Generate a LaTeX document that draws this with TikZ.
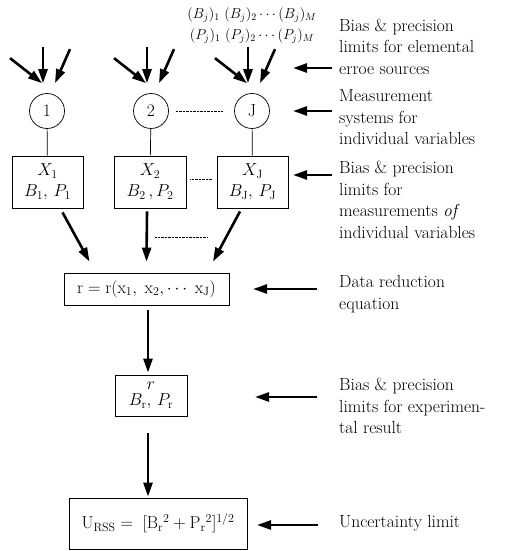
\documentclass[tikz,border=0pt]{standalone}
\usepackage{amsmath}
\usepackage{tikz}
\usetikzlibrary{arrows.meta}

\tikzset{
  meas/.style={draw, circle, minimum size=35pt, inner sep=0pt, line width=0.7pt},
  varbox/.style={draw, line width=0.8pt, align=center, inner sep=2pt},
  bigarrow/.style={-{Triangle[length=14pt,width=9pt]}, line width=2.6pt},
  note/.style={anchor=west, align=left, inner sep=0pt},
}

\begin{document}
\begin{tikzpicture}[x=1pt,y=-1pt,font=\fontsize{17.5}{21.5}\selectfont]
  \useasboundingbox (0,0) rectangle (506,551);

  % measurement systems
  \node[meas] (c1) at (47,111) {1};
  \node[meas] (c2) at (151,111) {2};
  \node[meas] (cJ) at (252,111) {J};
  \draw[densely dotted, shorten <=7pt, shorten >=11pt] (c2) -- (cJ);

  % elemental error sources
  \node[align=center, font=\fontsize{14}{21}\selectfont] (src) at (252,25.5)
    {$(B_j)_1\ (B_j)_2\cdots(B_j)_M$\\$(P_j)_1\ (P_j)_2\cdots(P_j)_M$};
  \foreach \c in {c1, c2, cJ} {
    \draw[bigarrow] ([xshift=-37pt,yshift=35pt]\c.north) -- ([xshift=-5pt,yshift=10pt]\c.north);
    \draw[bigarrow] ([xshift=-4pt,yshift=46pt]\c.north) -- ([xshift=-4pt,yshift=10pt]\c.north);
    \draw[bigarrow] ([xshift=23pt,yshift=44pt]\c.north) -- ([xshift=8pt,yshift=10pt]\c.north);
  }

  % individual variables
  \node[varbox, minimum width=71pt, minimum height=52pt] (b1) at (47.5,182) {$X_1$\\$B_1,\,P_1$};
  \node[varbox, minimum width=72pt, minimum height=52pt] (b2) at (150,182) {$X_2$\\$B_2\,,P_2$};
  \node[varbox, minimum width=71pt, minimum height=52pt] (b3) at (252.5,182) {$X_\mathrm{J}$\\$B_\mathrm{J},\,P_\mathrm{J}$};
  \foreach \c/\b in {c1/b1, c2/b2, cJ/b3}
    \draw[line width=0.7pt] (\c) -- (\b);
  \draw[densely dotted, shorten <=4pt, shorten >=4pt] ([yshift=3pt]b2.east) -- ([yshift=3pt]b3.west);

  % data reduction
  \node[varbox, minimum width=165pt, minimum height=32pt] (data) at (146.5,289)
    {$\mathrm{r}=\mathrm{r}(\mathrm{x}_1,\;\mathrm{x}_2,\cdots\;\mathrm{x}_\mathrm{J})$};
  \draw[bigarrow] ([xshift=15pt,yshift=-4pt]b1.south) -- ([xshift=-57pt,yshift=11pt]data.north);
  \draw[bigarrow] ([xshift=-3pt,yshift=-3pt]b2.south) -- ([xshift=0pt,yshift=11pt]data.north);
  \draw[bigarrow] ([xshift=-12.5pt,yshift=-3pt]b3.south) -- ([xshift=66.5pt,yshift=11pt]data.north);
  \coordinate (d1) at (155,237);
  \coordinate (d2) at (207,237);
  \draw[densely dotted] (d1) -- (d2);

  % result and uncertainty
  \node[varbox, minimum width=72pt, minimum height=41pt, inner sep=1pt] (rbox) at (151,395.5)
    {$r$\\[-5pt]$B_\mathrm{r},\,P_\mathrm{r}$};
  \node[varbox, minimum width=178pt, minimum height=51pt] (ubox) at (158,523.5)
    {$\mathrm{U}_\mathrm{RSS}=\;[\mathrm{B}_\mathrm{r}{}^2+\mathrm{P}_\mathrm{r}{}^2]^{1/2}$};
  \draw[bigarrow] ([xshift=1.5pt,yshift=-5pt]data.south) -- ([xshift=-3pt,yshift=2pt]rbox.north);
  \draw[bigarrow] ([xshift=-3pt,yshift=-17pt]rbox.south) -- ([xshift=-10pt,yshift=1pt]ubox.north);

  % explanations
  \node[note] (n1) at (339,46.5) {Bias \& precision\\limits for elemental\\erroe sources};
  \node[note] (n2) at (339,117.5) {Measurement\\systems for\\individual variables};
  \node[note] (n3) at (339,200) {Bias \& precision\\limits for\\measurements {\itshape of}\\individual variables};
  \node[note] (n4) at (339,294) {Data reduction\\equation};
  \node[note] (n5) at (339,406) {Bias \& precision\\limits for experimen-\\tal result};
  \node[note] (n6) at (339,523) {Uncertainty limit};
  \foreach \n/\dy/\a/\b in {n1/-21.5/7/46, n2/6.5/7/46, n3/25/7/46, n4/5/22/86, n5/9/22/84, n6/-2/21/82}
    \draw[bigarrow] ([xshift=-\a pt,yshift=\dy pt]\n.west) -- ([xshift=-\b pt,yshift=\dy pt]\n.west);
\end{tikzpicture}
\end{document}
